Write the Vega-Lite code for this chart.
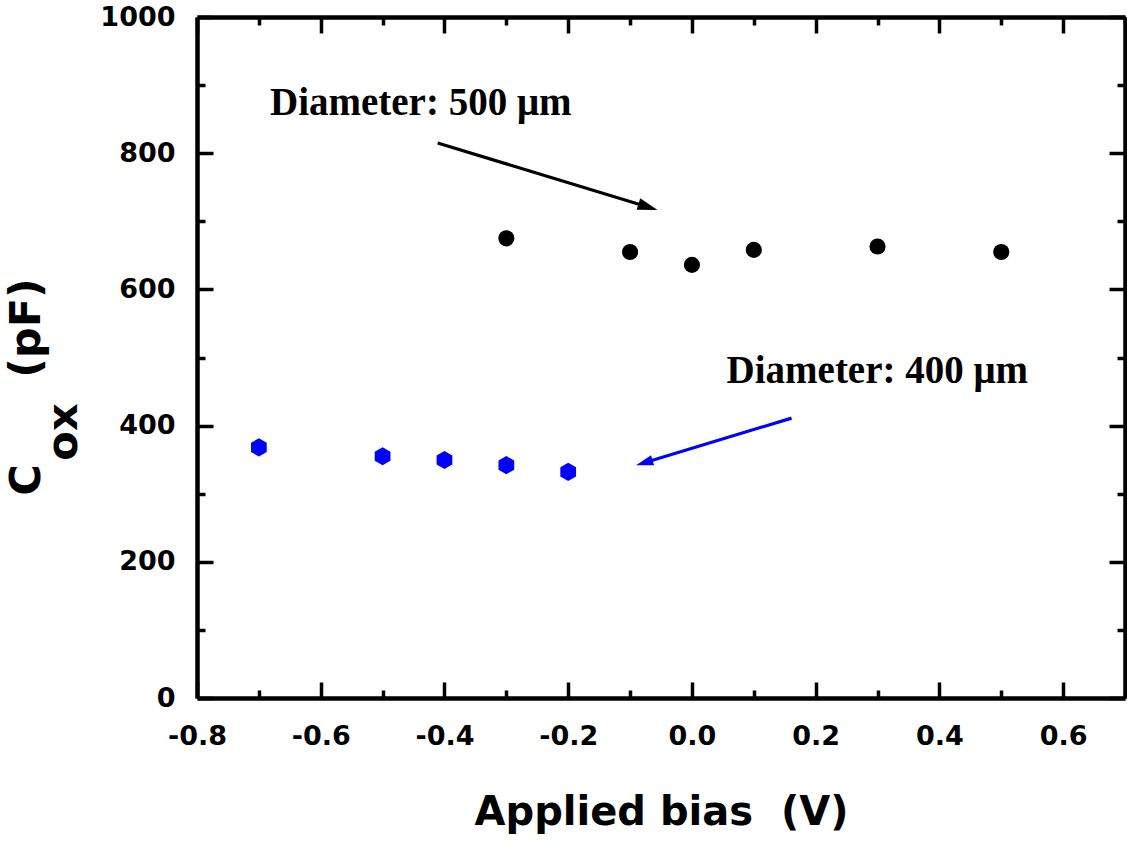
{
  "$schema": "https://vega.github.io/schema/vega-lite/v6.json",
  "width": 928,
  "height": 681,
  "autosize": "none",
  "padding": {"left": 197, "top": 17, "right": 2, "bottom": 144},
  "background": "white",
  "config": {
    "view": {"stroke": null},
    "axis": {
      "grid": false,
      "domainColor": "black",
      "domainWidth": 4.5,
      "tickColor": "black",
      "tickWidth": 3.5,
      "tickSize": -16,
      "labelFont": "DejaVu Sans",
      "labelFontWeight": "bold",
      "labelFontSize": 27,
      "labelColor": "black",
      "titleFont": "DejaVu Sans",
      "titleFontWeight": "bold",
      "titleColor": "black"
    }
  },
  "datasets": {
    "pts": [
      {"bias": -0.3, "cox": 675, "series": "500 um"},
      {"bias": -0.1, "cox": 655, "series": "500 um"},
      {"bias": 0.0, "cox": 636, "series": "500 um"},
      {"bias": 0.1, "cox": 658, "series": "500 um"},
      {"bias": 0.3, "cox": 663, "series": "500 um"},
      {"bias": 0.5, "cox": 655, "series": "500 um"},
      {"bias": -0.7, "cox": 368, "series": "400 um"},
      {"bias": -0.5, "cox": 355, "series": "400 um"},
      {"bias": -0.4, "cox": 349.5, "series": "400 um"},
      {"bias": -0.3, "cox": 342, "series": "400 um"},
      {"bias": -0.2, "cox": 332, "series": "400 um"}
    ],
    "notes": [
      {"bias": -0.682, "cox": 856, "text": "Diameter: 500 μm"},
      {"bias": 0.056, "cox": 462.5, "text": "Diameter: 400 μm"}
    ],
    "arrows": [
      {"bias": -0.411, "cox": 815, "bias2": -0.071, "cox2": 721, "series": "500 um"},
      {"bias": 0.161, "cox": 411, "bias2": -0.077, "cox2": 345.5, "series": "400 um"}
    ],
    "ytitle": [
      {"bias": -1.0536, "cox": 320.1, "text": "C"},
      {"bias": -0.9939, "cox": 390.6, "text": "ox"},
      {"bias": -1.0536, "cox": 543.3, "text": "(pF)"}
    ]
  },
  "layer": [
    {
      "data": {"name": "pts"},
      "transform": [{"filter": "datum.series === '500 um'"}],
      "mark": {"type": "point", "shape": "circle", "filled": true, "size": 260, "color": "black", "opacity": 1},
      "encoding": {
        "x": {
          "field": "bias", "type": "quantitative",
          "scale": {"domain": [-0.8, 0.7], "nice": false, "zero": false},
          "axis": {
            "orient": "bottom",
            "values": [-0.8, -0.7, -0.6, -0.5, -0.4, -0.3, -0.2, -0.1, 0, 0.1, 0.2, 0.3, 0.4, 0.5, 0.6, 0.7],
            "tickDash": {"condition": {"test": "abs(round(datum.value*10)) % 2 === 0", "value": [100, 0]}, "value": [8, 100]},
            "labelExpr": "abs(round(datum.value*10)) % 2 === 0 && datum.value < 0.65 ? replace(format(datum.value, '.1f'), '\u2212', '-') : ''",
            "labelPadding": 41,
            "labelFlush": false,
            "labelOverlap": false,
            "title": "Applied bias\u00a0 (V)",
            "titleFontSize": 40,
            "titlePadding": 43
          }
        },
        "y": {
          "field": "cox", "type": "quantitative",
          "scale": {"domain": [0, 1000], "nice": false},
          "axis": {
            "orient": "left",
            "values": [0, 100, 200, 300, 400, 500, 600, 700, 800, 900, 1000],
            "tickDash": {"condition": {"test": "round(datum.value/100) % 2 === 0", "value": [100, 0]}, "value": [8, 100]},
            "labelExpr": "round(datum.value/100) % 2 === 0 ? datum.label : ''",
            "format": "d",
            "labelPadding": 38,
            "labelFlush": false,
            "labelOverlap": false,
            "title": null
          }
        }
      }
    },
    {
      "data": {"name": "pts"},
      "transform": [{"filter": "datum.series === '400 um'"}],
      "mark": {"type": "point", "shape": "M0,-1L0.866,-0.5L0.866,0.5L0,1L-0.866,0.5L-0.866,-0.5Z", "filled": true, "size": 330, "color": "#0000FF", "opacity": 1},
      "encoding": {
        "x": {
          "field": "bias", "type": "quantitative",
          "scale": {"domain": [-0.8, 0.7], "nice": false, "zero": false},
          "axis": {
            "orient": "top",
            "values": [-0.8, -0.7, -0.6, -0.5, -0.4, -0.3, -0.2, -0.1, 0, 0.1, 0.2, 0.3, 0.4, 0.5, 0.6, 0.7],
            "tickDash": {"condition": {"test": "abs(round(datum.value*10)) % 2 === 0", "value": [100, 0]}, "value": [8, 100]},
            "labels": false,
            "title": null
          }
        },
        "y": {
          "field": "cox", "type": "quantitative",
          "scale": {"domain": [0, 1000], "nice": false},
          "axis": {
            "orient": "right",
            "values": [0, 100, 200, 300, 400, 500, 600, 700, 800, 900, 1000],
            "tickDash": {"condition": {"test": "round(datum.value/100) % 2 === 0", "value": [100, 0]}, "value": [8, 100]},
            "labels": false,
            "title": null
          }
        }
      }
    },
    {
      "data": {"name": "arrows"},
      "mark": {"type": "rule", "strokeWidth": 3.2},
      "encoding": {
        "x": {"field": "bias", "type": "quantitative", "scale": {"domain": [-0.8, 0.7], "nice": false, "zero": false}, "axis": null},
        "y": {"field": "cox", "type": "quantitative", "scale": {"domain": [0, 1000], "nice": false}, "axis": null},
        "x2": {"field": "bias2"},
        "y2": {"field": "cox2"},
        "color": {"field": "series", "type": "nominal", "scale": {"domain": ["500 um", "400 um"], "range": ["black", "#0000FF"]}, "legend": null}
      }
    },
    {
      "data": {"name": "arrows"},
      "transform": [{"filter": "datum.series === '500 um'"}],
      "mark": {"type": "point", "shape": "M1,0L-1,-0.6L-1,0.6Z", "filled": true, "size": 400, "angle": 17, "color": "black", "opacity": 1},
      "encoding": {
        "x": {"field": "bias2", "type": "quantitative", "scale": {"domain": [-0.8, 0.7], "nice": false, "zero": false}, "axis": null},
        "y": {"field": "cox2", "type": "quantitative", "scale": {"domain": [0, 1000], "nice": false}, "axis": null}
      }
    },
    {
      "data": {"name": "arrows"},
      "transform": [{"filter": "datum.series === '400 um'"}],
      "mark": {"type": "point", "shape": "M1,0L-1,-0.6L-1,0.6Z", "filled": true, "size": 300, "angle": 163, "color": "#0000FF", "opacity": 1},
      "encoding": {
        "x": {"field": "bias2", "type": "quantitative", "scale": {"domain": [-0.8, 0.7], "nice": false, "zero": false}, "axis": null},
        "y": {"field": "cox2", "type": "quantitative", "scale": {"domain": [0, 1000], "nice": false}, "axis": null}
      }
    },
    {
      "data": {"name": "notes"},
      "mark": {"type": "text", "font": "Liberation Serif", "fontWeight": "bold", "fontSize": 39, "align": "left", "baseline": "alphabetic", "color": "black"},
      "encoding": {
        "x": {"field": "bias", "type": "quantitative", "scale": {"domain": [-0.8, 0.7], "nice": false, "zero": false}, "axis": null},
        "y": {"field": "cox", "type": "quantitative", "scale": {"domain": [0, 1000], "nice": false}, "axis": null},
        "text": {"field": "text"}
      }
    },
    {
      "data": {"name": "ytitle"},
      "mark": {"type": "text", "font": "DejaVu Sans", "fontWeight": "bold", "fontSize": 43, "angle": 270, "align": "center", "baseline": "alphabetic", "color": "black"},
      "encoding": {
        "x": {"field": "bias", "type": "quantitative", "scale": {"domain": [-0.8, 0.7], "nice": false, "zero": false}, "axis": null},
        "y": {"field": "cox", "type": "quantitative", "scale": {"domain": [0, 1000], "nice": false}, "axis": null},
        "text": {"field": "text"}
      }
    }
  ],
  "resolve": {"axis": {"x": "independent", "y": "independent"}}
}
